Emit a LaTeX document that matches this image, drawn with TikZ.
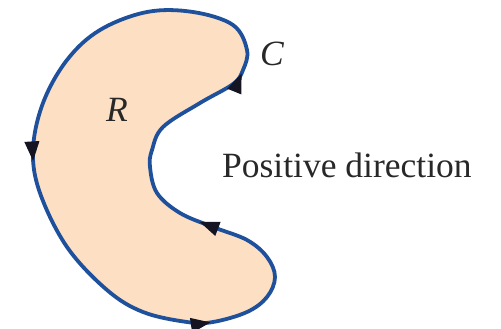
\documentclass[tikz,border=0pt]{standalone}
\usepackage{fontspec}
\setmainfont{Liberation Serif}
\usetikzlibrary{arrows.meta,decorations.markings}
\definecolor{regionfill}{RGB}{253,224,196}
\definecolor{curveblue}{RGB}{30,80,155}
\definecolor{tipcol}{RGB}{20,20,35}
\definecolor{txt}{RGB}{40,40,40}
\tikzset{
  curve/.style={draw=curveblue,line width=3.8pt,fill=regionfill},
  tiphead/.style={tipcol},
  marks/.style={postaction={decorate,decoration={markings,
    mark=at position 0.152 with {\arrow[tiphead]{Triangle[length=20pt,width=14pt]}},
    mark=at position 0.412 with {\arrow[tiphead]{Triangle[length=20pt,width=14pt]}},
    mark=at position 0.594 with {\arrow[tiphead]{Triangle[length=20pt,width=14pt]}},
    mark=at position 0.810 with {\arrow[tiphead]{Triangle[length=20pt,width=14pt]}}}}},
  lbl/.style={text=txt,font=\fontsize{35.5}{40}\selectfont,inner sep=0pt}
}
\begin{document}
\begin{tikzpicture}[x=1pt,y=-1pt]
\useasboundingbox (0,0) rectangle (501,329);
\draw[curve,marks] plot[smooth cycle,tension=0.6] coordinates {
(147,12) (100,30) (67,60) (43,103) (33,150) (40,193) (67,247) (107,290)
(143,312) (187,322) (213,322) (247,312) (267,297) (275,277) (267,257)
(247,240) (213,227) (180,213) (157,193) (150,167) (152,150) (163,127)
(200,103) (233,84) (243,70) (247,50) (233,25) (193,12)};
\node[lbl,font=\fontsize{35.5}{40}\selectfont\itshape] (R) at (117,110) {R};
\node[lbl,font=\fontsize{35.5}{40}\selectfont\itshape] (C) at (272,54) {C};
\node[lbl,anchor=base west] (P) at (222,177) {Positive direction};
\end{tikzpicture}
\end{document}
